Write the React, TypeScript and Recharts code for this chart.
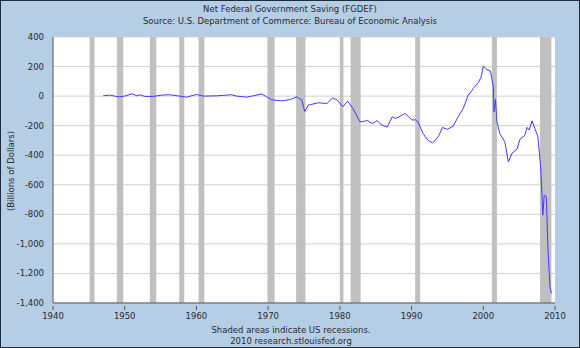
import React from "react";
import {
  ComposedChart,
  Line,
  XAxis,
  YAxis,
  CartesianGrid,
  ReferenceArea,
} from "recharts";

// Net federal government saving, billions of dollars
const years = [
  1947.0, 1947.9, 1949.1, 1950.0, 1951.0, 1951.7, 1952.1, 1952.8, 1954.0, 1955.2,
  1956.3, 1957.7, 1958.6, 1960.0, 1961.0, 1962.8, 1964.9, 1965.6, 1967.0, 1967.9,
  1969.1, 1969.8, 1970.5, 1971.9, 1973.1, 1974.0, 1974.7, 1975.1, 1975.6, 1977.0,
  1978.2, 1979.0, 1979.6, 1980.4, 1981.1, 1981.8, 1982.8, 1983.4, 1983.9, 1984.2,
  1984.6, 1985.2, 1985.5, 1985.9, 1986.6, 1987.3, 1987.7, 1988.1, 1988.7, 1989.1,
  1989.6, 1990.1, 1990.5, 1990.9, 1991.6, 1992.3, 1992.9, 1993.3, 1993.8, 1994.3,
  1995.0, 1995.8, 1996.5, 1997.2, 1997.9, 1998.3, 1998.6, 1999.3, 1999.7, 2000.0,
  2000.5, 2001.0, 2001.4, 2001.5, 2001.7, 2001.9, 2002.3, 2003.0, 2003.5, 2004.0,
  2004.7, 2005.1, 2005.8, 2006.1, 2006.4, 2006.8, 2007.2, 2007.6, 2008.0, 2008.2,
  2008.3, 2008.5, 2008.8, 2009.0, 2009.2, 2009.3, 2009.5,
];
const saving = [
  2, 7, -5, 0, 16, 2, 9, -2, -2, 7,
  9, 0, -7, 11, 0, 2, 9, 0, -7, 2,
  14, -5, -25, -32, -23, -5, -27, -104, -61, -45,
  -50, -12, -25, -72, -35, -82, -174, -170, -165, -178,
  -185, -165, -182, -196, -210, -140, -150, -145, -128, -117,
  -140, -162, -160, -175, -253, -300, -316, -300, -268, -212,
  -225, -203, -140, -84, 7, 30, 52, 90, 130, 203,
  180, 170, 63, -106, -22, -174, -253, -309, -445, -386,
  -360, -293, -265, -212, -230, -167, -220, -271, -478, -681,
  -806, -670, -680, -1020, -1200, -1290, -1335,
];

// NBER recessions [start, end]
const recessions = [
  [1945.1, 1945.8], [1948.9, 1949.8], [1953.5, 1954.4], [1957.6, 1958.3],
  [1960.3, 1961.1], [1969.9, 1970.9], [1973.9, 1975.2], [1980.0, 1980.5],
  [1981.5, 1982.9], [1990.5, 1991.2], [2001.2, 2001.9], [2007.9, 2009.5],
];

const xTicks = [1940, 1950, 1960, 1970, 1980, 1990, 2000, 2010];
const yTicks = [400, 200, 0, -200, -400, -600, -800, -1000, -1200, -1400];

const data = years.map((y, i) => ({ year: y, value: saving[i] }));

const font = "'DejaVu Sans', Verdana, sans-serif";
const textColor = "#2a2a2a";

const XTick = ({ x, y, payload }: any) => (
  <g>
    <line x1={x} x2={x} y1={y - 1} y2={y - 5} stroke="#555" />
    <text x={x} y={y + 8} textAnchor="middle" fontSize={8.5} fontFamily={font} fill={textColor}>
      {payload.value}
    </text>
  </g>
);

const YTick = ({ x, y, payload }: any) => (
  <text x={x - 1} y={y + 3} textAnchor="end" fontSize={8.5} fontFamily={font} fill={textColor}>
    {payload.value.toLocaleString("en-US")}
  </text>
);

export default function App() {
  return (
    <div
      style={{
        position: "absolute",
        left: 0,
        top: 0,
        width: 578,
        height: 346,
        background: "#b6cde6",
        border: "1px solid #1d2b3c",
        fontFamily: font,
        color: textColor,
      }}
    >
      <div style={{ position: "absolute", top: 2, width: "100%", textAlign: "center", fontSize: 8.5, lineHeight: "12px" }}>
        Net Federal Government Saving (FGDEF)
        <br />
        Source: U.S. Department of Commerce: Bureau of Economic Analysis
      </div>
      <div
        style={{
          position: "absolute",
          left: 10,
          top: 170,
          fontSize: 8.5,
          transform: "translate(-50%, -50%) rotate(-90deg)",
          whiteSpace: "nowrap",
        }}
      >
        (Billions of Dollars)
      </div>
      <div style={{ position: "absolute", top: 324, left: 0, width: 580, textAlign: "center", fontSize: 8.5, lineHeight: "11px" }}>
        Shaded areas indicate US recessions.
        <br />
        2010 research.stlouisfed.org
      </div>
      <div style={{ position: "absolute", left: -1, top: -1 }}>
        <ComposedChart width={580} height={348} data={data} margin={{ top: 37, right: 25, bottom: 31, left: 0 }}>
          <CartesianGrid vertical={false} stroke="#d0d0d0" fill="#ffffff" horizontalValues={yTicks} />
          {recessions.map(([a, b], i) => (
            <ReferenceArea key={i} x1={a} x2={b} fill="#c0c0c0" fillOpacity={1} stroke="none" ifOverflow="hidden" />
          ))}
          <XAxis
            type="number"
            dataKey="year"
            domain={[1940, 2010]}
            ticks={xTicks}
            height={14}
            tick={<XTick />}
            tickLine={false}
            axisLine={{ stroke: "#555" }}
            allowDataOverflow
          />
          <YAxis
            type="number"
            domain={[-1400, 400]}
            ticks={yTicks}
            width={53}
            tick={<YTick />}
            tickLine={false}
            axisLine={{ stroke: "#555" }}
            allowDataOverflow
          />
          <Line
            type="linear"
            dataKey="value"
            stroke="#3c3cff"
            strokeWidth={1}
            dot={false}
            isAnimationActive={false}
          />
        </ComposedChart>
      </div>
    </div>
  );
}
